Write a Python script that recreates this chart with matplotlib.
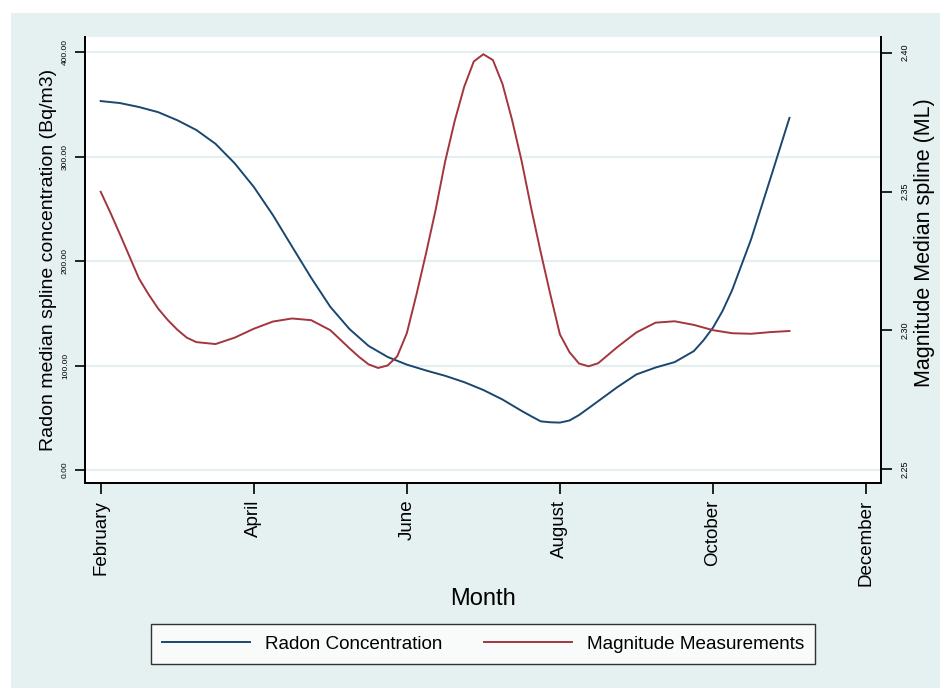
import matplotlib
matplotlib.use("Agg")
import matplotlib.pyplot as plt
from matplotlib.patches import Rectangle

# Month position (2 = February ... 12 = December) for the radon spline samples
radon_pos = [2.00, 2.25, 2.50, 2.75, 3.00, 3.25, 3.50, 3.75,
             4.00, 4.25, 4.50, 4.75, 5.00, 5.25, 5.50, 5.75,
             6.00, 6.25, 6.50, 6.75, 7.00, 7.25, 7.50, 7.625, 7.75, 7.875,
             8.00, 8.125, 8.25, 8.375, 8.50, 8.75, 9.00, 9.25, 9.50, 9.75, 9.875,
             10.00, 10.125, 10.25, 10.50, 10.75, 11.00]

# Median spline of radon concentration (Bq/m3)
radon = [353.1, 351.2, 347.4, 342.5, 334.8, 325.4, 312.2, 293.6,
         271.0, 244.0, 213.9, 184.0, 156.2, 135.0, 118.8, 108.2,
         100.9, 95.3, 90.2, 84.1, 76.6, 67.5, 56.6, 51.5, 46.6, 45.7,
         45.4, 47.4, 52.6, 59.2, 65.9, 79.3, 91.5, 98.1, 103.3, 113.8, 124.0,
         136.2, 152.2, 172.0, 221.1, 278.8, 337.0]

# Month position for the magnitude spline samples
mag_pos = [2.00, 2.125, 2.25, 2.375, 2.50, 2.625, 2.75, 2.875, 3.00, 3.125, 3.25, 3.50, 3.75,
           4.00, 4.25, 4.50, 4.75, 5.00, 5.25, 5.375, 5.50, 5.625, 5.75, 5.875,
           6.00, 6.125, 6.25, 6.375, 6.50, 6.625, 6.75, 6.875,
           7.00, 7.125, 7.25, 7.375, 7.50, 7.625, 7.75, 7.875,
           8.00, 8.125, 8.25, 8.375, 8.50, 8.75, 9.00, 9.25, 9.50, 9.75,
           10.00, 10.25, 10.50, 10.75, 11.00]

# Median spline of magnitude (ML)
magnitude = [2.3499, 2.3425, 2.3347, 2.3267, 2.3187, 2.3130, 2.3079, 2.3038, 2.3003, 2.2974,
             2.2958, 2.2951, 2.2974,
             2.3006, 2.3032, 2.3043, 2.3037, 2.3001, 2.2936, 2.2905, 2.2878, 2.2865, 2.2874, 2.2907,
             2.2990, 2.3128, 2.3276, 2.3432, 2.3607, 2.3753, 2.3877, 2.3968,
             2.3994, 2.3973, 2.3887, 2.3758, 2.3610, 2.3440, 2.3281, 2.3130,
             2.2986, 2.2922, 2.2881, 2.2871, 2.2882, 2.2940, 2.2993, 2.3028, 2.3033, 2.3020,
             2.3001, 2.2990, 2.2988, 2.2994, 2.2998]

x_ticks = [2, 4, 6, 8, 10, 12]
x_labels = ["February", "April", "June", "August", "October", "December"]
left_ticks = [0, 100, 200, 300, 400]
left_labels = ["0.00", "100.00", "200.00", "300.00", "400.00"]
right_ticks = [2.25, 2.30, 2.35, 2.40]
right_labels = ["2.25", "2.30", "2.35", "2.40"]

BLUE = "#1a476f"
RED = "#a3353e"
BG = "#e5f0f0"
GRID = "#e6efef"

plt.rcParams["font.family"] = ["Liberation Sans", "DejaVu Sans"]

W, H = 943, 690
fig = plt.figure(figsize=(W / 100, H / 100), dpi=100)
fig.patch.set_facecolor("white")
fig.patches.append(Rectangle((11 / W, 2 / H), (940 - 11) / W, (688 - 13) / H,
                             transform=fig.transFigure, facecolor=BG,
                             edgecolor="none", zorder=-10))

ax = fig.add_axes([85 / W, 1 - 483 / H, (881 - 85) / W, (483 - 37) / H])
ax.set_facecolor("white")
ax2 = ax.twinx()

l1, = ax.plot(radon_pos, radon, color=BLUE, lw=1.4, label="Radon Concentration", zorder=3)
l2, = ax2.plot(mag_pos, magnitude, color=RED, lw=1.4, label="Magnitude Measurements", zorder=3)

ax.set_xlim(1.795, 12.196)
ax.set_ylim(-12.4, 414.4)
ax2.set_ylim(2.2451, 2.4056)

ax.set_xticks(x_ticks)
ax.set_xticklabels(x_labels, rotation=90, fontsize=13.5)
ax.set_yticks(left_ticks)
ax.set_yticklabels(left_labels, rotation=90, fontsize=6, va="center")
ax2.set_yticks(right_ticks)
ax2.set_yticklabels(right_labels, rotation=90, fontsize=6.5, va="center")

ax.grid(axis="y", color=GRID, lw=1.6, zorder=0)
ax.set_axisbelow(True)

for a in (ax, ax2):
    a.spines["top"].set_visible(False)
    for s in ("left", "right", "bottom"):
        a.spines[s].set_linewidth(1.3)
        a.spines[s].set_color("black")
ax.tick_params(axis="x", length=8, width=1.2, pad=4, colors="black")
ax.tick_params(axis="y", length=7.5, width=1.2, pad=4)
ax2.tick_params(axis="y", length=8, width=1.2, pad=6)

ax.set_xlabel("Month", fontsize=17, family=["Liberation Sans Narrow", "Liberation Sans"])
ax.xaxis.set_label_coords(0.5, -0.235)
ax.set_ylabel("Radon median spline concentration (Bq/m3)", fontsize=14)
ax.yaxis.set_label_coords(-0.035, 0.5)
ax2.set_ylabel("Magnitude Median spline (ML)", fontsize=15.5, rotation=90)
ax2.yaxis.set_label_coords(1.042, 0.54)

leg = fig.legend(handles=[l1, l2], loc="center",
                 bbox_to_anchor=(483 / W, 1 - 644 / H),
                 ncol=2, fontsize=13.6, frameon=True, fancybox=False,
                 handlelength=4.66, handletextpad=0.79, columnspacing=2.2,
                 borderpad=0.6, borderaxespad=0)
leg.get_frame().set_edgecolor("black")
leg.get_frame().set_linewidth(1.0)
for line in leg.get_lines():
    line.set_linewidth(1.4)

fig.savefig("out.png", dpi=100, facecolor=fig.get_facecolor())
